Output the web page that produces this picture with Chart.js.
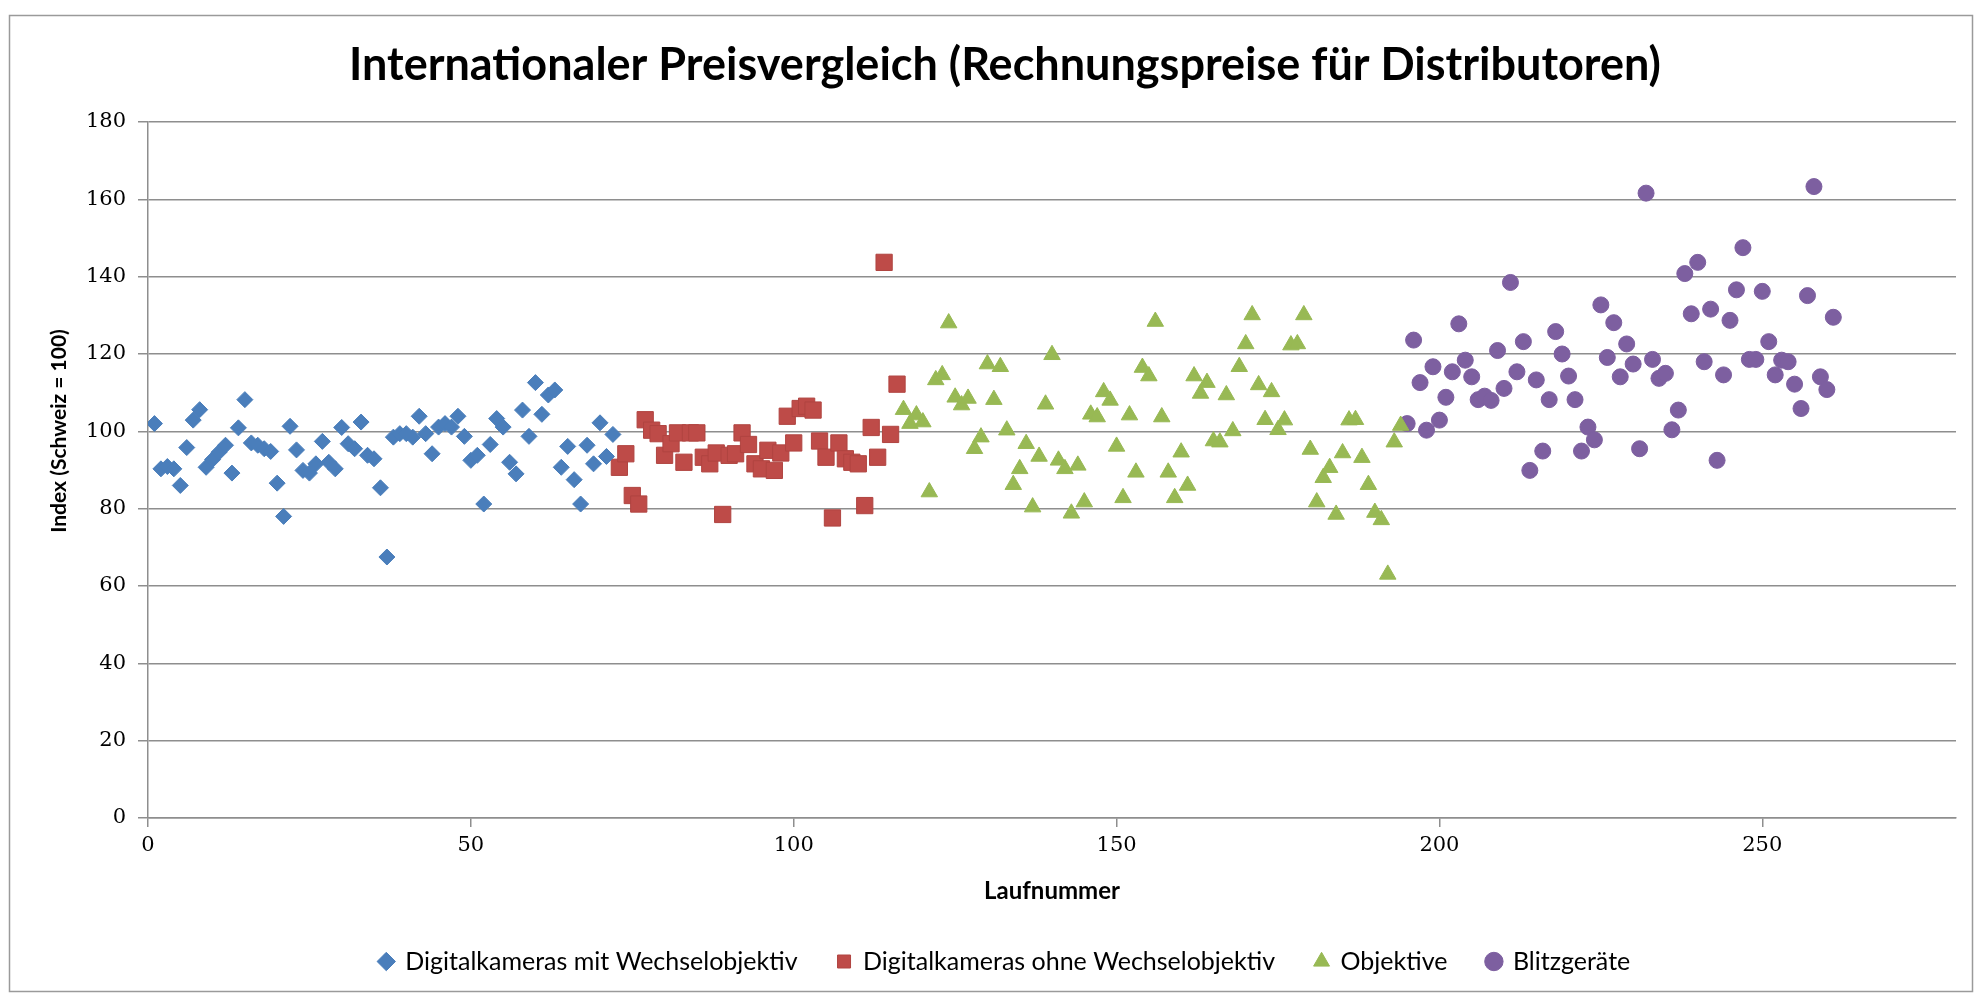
<!DOCTYPE html>
<html>
<head>
<meta charset="utf-8">
<title>Internationaler Preisvergleich</title>
<script src="https://cdn.jsdelivr.net/npm/chart.js@4"></script>
<style>
  html, body { margin: 0; padding: 0; background: #fff; }
  #wrap { width: 1982px; height: 998px; position: relative; }
</style>
</head>
<body>
<div id="wrap"><canvas id="preisChart"></canvas></div>
<script>
// Laufnummer, bei der jede Gruppe beginnt
const startKameraMit = 1;
const startKameraOhne = 73;
const startObjektive = 117;
const startBlitz = 195;

// Index-Werte (Schweiz = 100)
const kameraMitWechsel = [102, 90.3, 90.9, 90.3, 86, 95.8, 102.9, 105.6, 90.7, 92.7,
  94.6, 96.4, 89.2, 100.9, 108.2, 97, 96.4, 95.5, 94.8, 86.6,
  78, 101.3, 95.2, 89.9, 89.2, 91.6, 97.4, 92, 90.3, 101,
  96.8, 95.5, 102.4, 93.8, 92.9, 85.4, 67.5, 98.5, 99.4, 99.4,
  98.5, 103.9, 99.4, 94.2, 101.1, 102, 101.1, 103.9, 98.7, 92.5,
  93.8, 81.2, 96.6, 103.3, 101.1, 92, 89, 105.5, 98.7, 112.6,
  104.4, 109.4, 110.7, 90.7, 96.1, 87.5, 81.2, 96.4, 91.6, 102.2,
  93.5, 99.2];

const kameraOhneWechsel = [90.7, 94.2, 83.4, 81.2, 103, 100.3, 99.4, 93.8, 96.8, 99.6,
  92, 99.6, 99.6, 93.3, 91.6, 94.4, 78.5, 93.8, 94.2, 99.6,
  96.6, 91.6, 90.3, 95.1, 89.9, 94.4, 103.9, 97, 105.9, 106.5,
  105.5, 97.5, 93.3, 77.6, 97, 92.9, 92, 91.6, 80.8, 101,
  93.3, 143.7, 99.2, 112.2];

const objektive = [105.6, 102, 104.2, 102.4, 84.3, 113.3, 114.6, 128, 108.8, 106.8,
  108.5, 95.5, 98.5, 117.4, 108.2, 116.7, 100.3, 86.2, 90.3, 96.8,
  80.4, 93.5, 107, 119.8, 92.5, 90.3, 78.8, 91.2, 81.7, 104.4,
  103.7, 110.2, 108, 96.1, 82.8, 104.2, 89.4, 116.5, 114.3, 128.4,
  103.7, 89.4, 82.8, 94.6, 86, 114.3, 109.8, 112.6, 97.5, 97.2,
  109.4, 100.1, 116.7, 122.6, 130.1, 112, 103, 110.2, 100.4, 102.9,
  122.3, 122.6, 130.1, 95.3, 81.7, 88, 90.6, 78.5, 94.4, 102.9,
  103, 93.2, 86.2, 79, 77.1, 63, 97.2, 101.5];

const blitzgeraete = [102, 123.6, 112.6, 100.3, 116.7, 102.9, 108.8, 115.4, 127.8, 118.4,
  114.1, 108.2, 109.1, 108, 120.9, 111.1, 138.5, 115.4, 123.2, 89.9,
  113.3, 94.9, 108.2, 125.8, 120, 114.3, 108.2, 94.9, 101.1, 97.8,
  132.7, 119.1, 128.1, 114.1, 122.6, 117.4, 95.5, 161.6, 118.6, 113.7,
  115, 100.4, 105.5, 140.8, 130.4, 143.7, 118, 131.6, 92.5, 114.6,
  128.7, 136.6, 147.5, 118.6, 118.6, 136.2, 123.2, 114.6, 118.4, 118,
  112.2, 105.9, 135.1, 163.3, 114.1, 110.8, 129.5];

const serienNamen = ['Digitalkameras mit Wechselobjektiv', 'Digitalkameras ohne Wechselobjektiv', 'Objektive', 'Blitzgeräte'];
const xTicks = [0, 50, 100, 150, 200, 250];
const yTicks = [0, 20, 40, 60, 80, 100, 120, 140, 160, 180];
const yTitel = 'Index (Schweiz = 100)';

function punkte(start, werte) {
    return werte.map((v, i) => ({ x: start + i, y: v }));
}

const textFont = 'Lato, "Open Sans", sans-serif';

// Rahmen um das ganze Diagramm + y-Achsentitel (im Original etwas oberhalb der Mitte)
const rahmen = {
    id: 'rahmen',
    beforeDraw(chart) {
        const c = chart.ctx;
        c.save();
        c.fillStyle = '#fff';
        c.fillRect(0, 0, chart.width, chart.height);
        c.strokeStyle = '#9a9a9a';
        c.lineWidth = 1.5;
        c.strokeRect(9.5, 15.5, 1963, 976);
        c.restore();
    },
    afterDraw(chart) {
        const c = chart.ctx;
        const area = chart.chartArea;
        c.save();
        c.translate(59, (area.top + area.bottom) / 2 - 39);
        c.rotate(-Math.PI / 2);
        c.font = 'bold 21px ' + textFont;
        c.fillStyle = '#000';
        c.textAlign = 'center';
        c.textBaseline = 'middle';
        c.fillText(yTitel, 0, 0);
        c.restore();
    }
};

const gridFarbe = '#8e8e8e';
const tickFont = { family: '"DejaVu Serif", "Liberation Serif", serif', size: 21 };

new Chart(document.getElementById('preisChart'), {
    type: 'scatter',
    data: {
        datasets: [
            {
                label: serienNamen[0],
                data: punkte(startKameraMit, kameraMitWechsel),
                pointStyle: 'rectRot', pointRadius: 8, pointHoverRadius: 8,
                backgroundColor: '#4a7ebb', borderColor: '#4a7ebb', borderWidth: 1
            },
            {
                label: serienNamen[1],
                data: punkte(startKameraOhne, kameraOhneWechsel),
                pointStyle: 'rect', pointRadius: 11.5, pointHoverRadius: 11.5,
                backgroundColor: '#be4b48', borderColor: '#b04440', borderWidth: 1
            },
            {
                label: serienNamen[2],
                data: punkte(startObjektive, objektive),
                pointStyle: 'triangle', pointRadius: 9.5, pointHoverRadius: 9.5,
                backgroundColor: '#98b954', borderColor: '#98b954', borderWidth: 1
            },
            {
                label: serienNamen[3],
                data: punkte(startBlitz, blitzgeraete),
                pointStyle: 'circle', pointRadius: 8, pointHoverRadius: 8,
                backgroundColor: '#7d5fa0', borderColor: '#7d5fa0', borderWidth: 1
            }
        ]
    },
    options: {
        responsive: true,
        maintainAspectRatio: false,
        animation: false,
        layout: { padding: { left: 36, right: 8, top: 16, bottom: 14 } },
        plugins: {
            title: {
                display: true,
                text: 'Internationaler Preisvergleich (Rechnungspreise für Distributoren)',
                color: '#000',
                font: { family: textFont, size: 45, weight: 'bold' },
                padding: { top: 22, bottom: 30 }
            },
            legend: {
                position: 'bottom',
                labels: {
                    usePointStyle: true,
                    boxWidth: 13, boxHeight: 13,
                    padding: 40,
                    color: '#000',
                    font: { family: textFont, size: 25 }
                }
            },
            tooltip: { enabled: false }
        },
        scales: {
            x: {
                type: 'linear',
                min: 0, max: 280,
                afterFit(scale) {
                    scale.height = 91;
                    scale.paddingRight = 26; // Platz rechts vom Plotbereich
                },
                ticks: {
                    stepSize: 50, includeBounds: false,
                    color: '#000', font: tickFont, padding: 6,
                    callback: v => xTicks.includes(v) ? v : ''
                },
                grid: { display: true, drawOnChartArea: false, drawTicks: true, tickLength: 9, color: gridFarbe, lineWidth: 1.5 },
                border: { display: true, color: gridFarbe, width: 1.5 },
                title: {
                    display: true, text: 'Laufnummer', color: '#000',
                    font: { family: textFont, size: 24, weight: 'bold' },
                    padding: { top: 0, bottom: 3 }
                }
            },
            y: {
                min: 0, max: 180,
                afterFit(scale) { scale.width = 112; },
                ticks: {
                    stepSize: 20, color: '#000', font: tickFont, padding: 12,
                    callback: v => yTicks.includes(v) ? v : ''
                },
                grid: { color: gridFarbe, lineWidth: 1.5, tickLength: 10 },
                border: { display: true, color: gridFarbe, width: 1.5 }
            }
        }
    },
    plugins: [rahmen]
});
</script>
</body>
</html>
